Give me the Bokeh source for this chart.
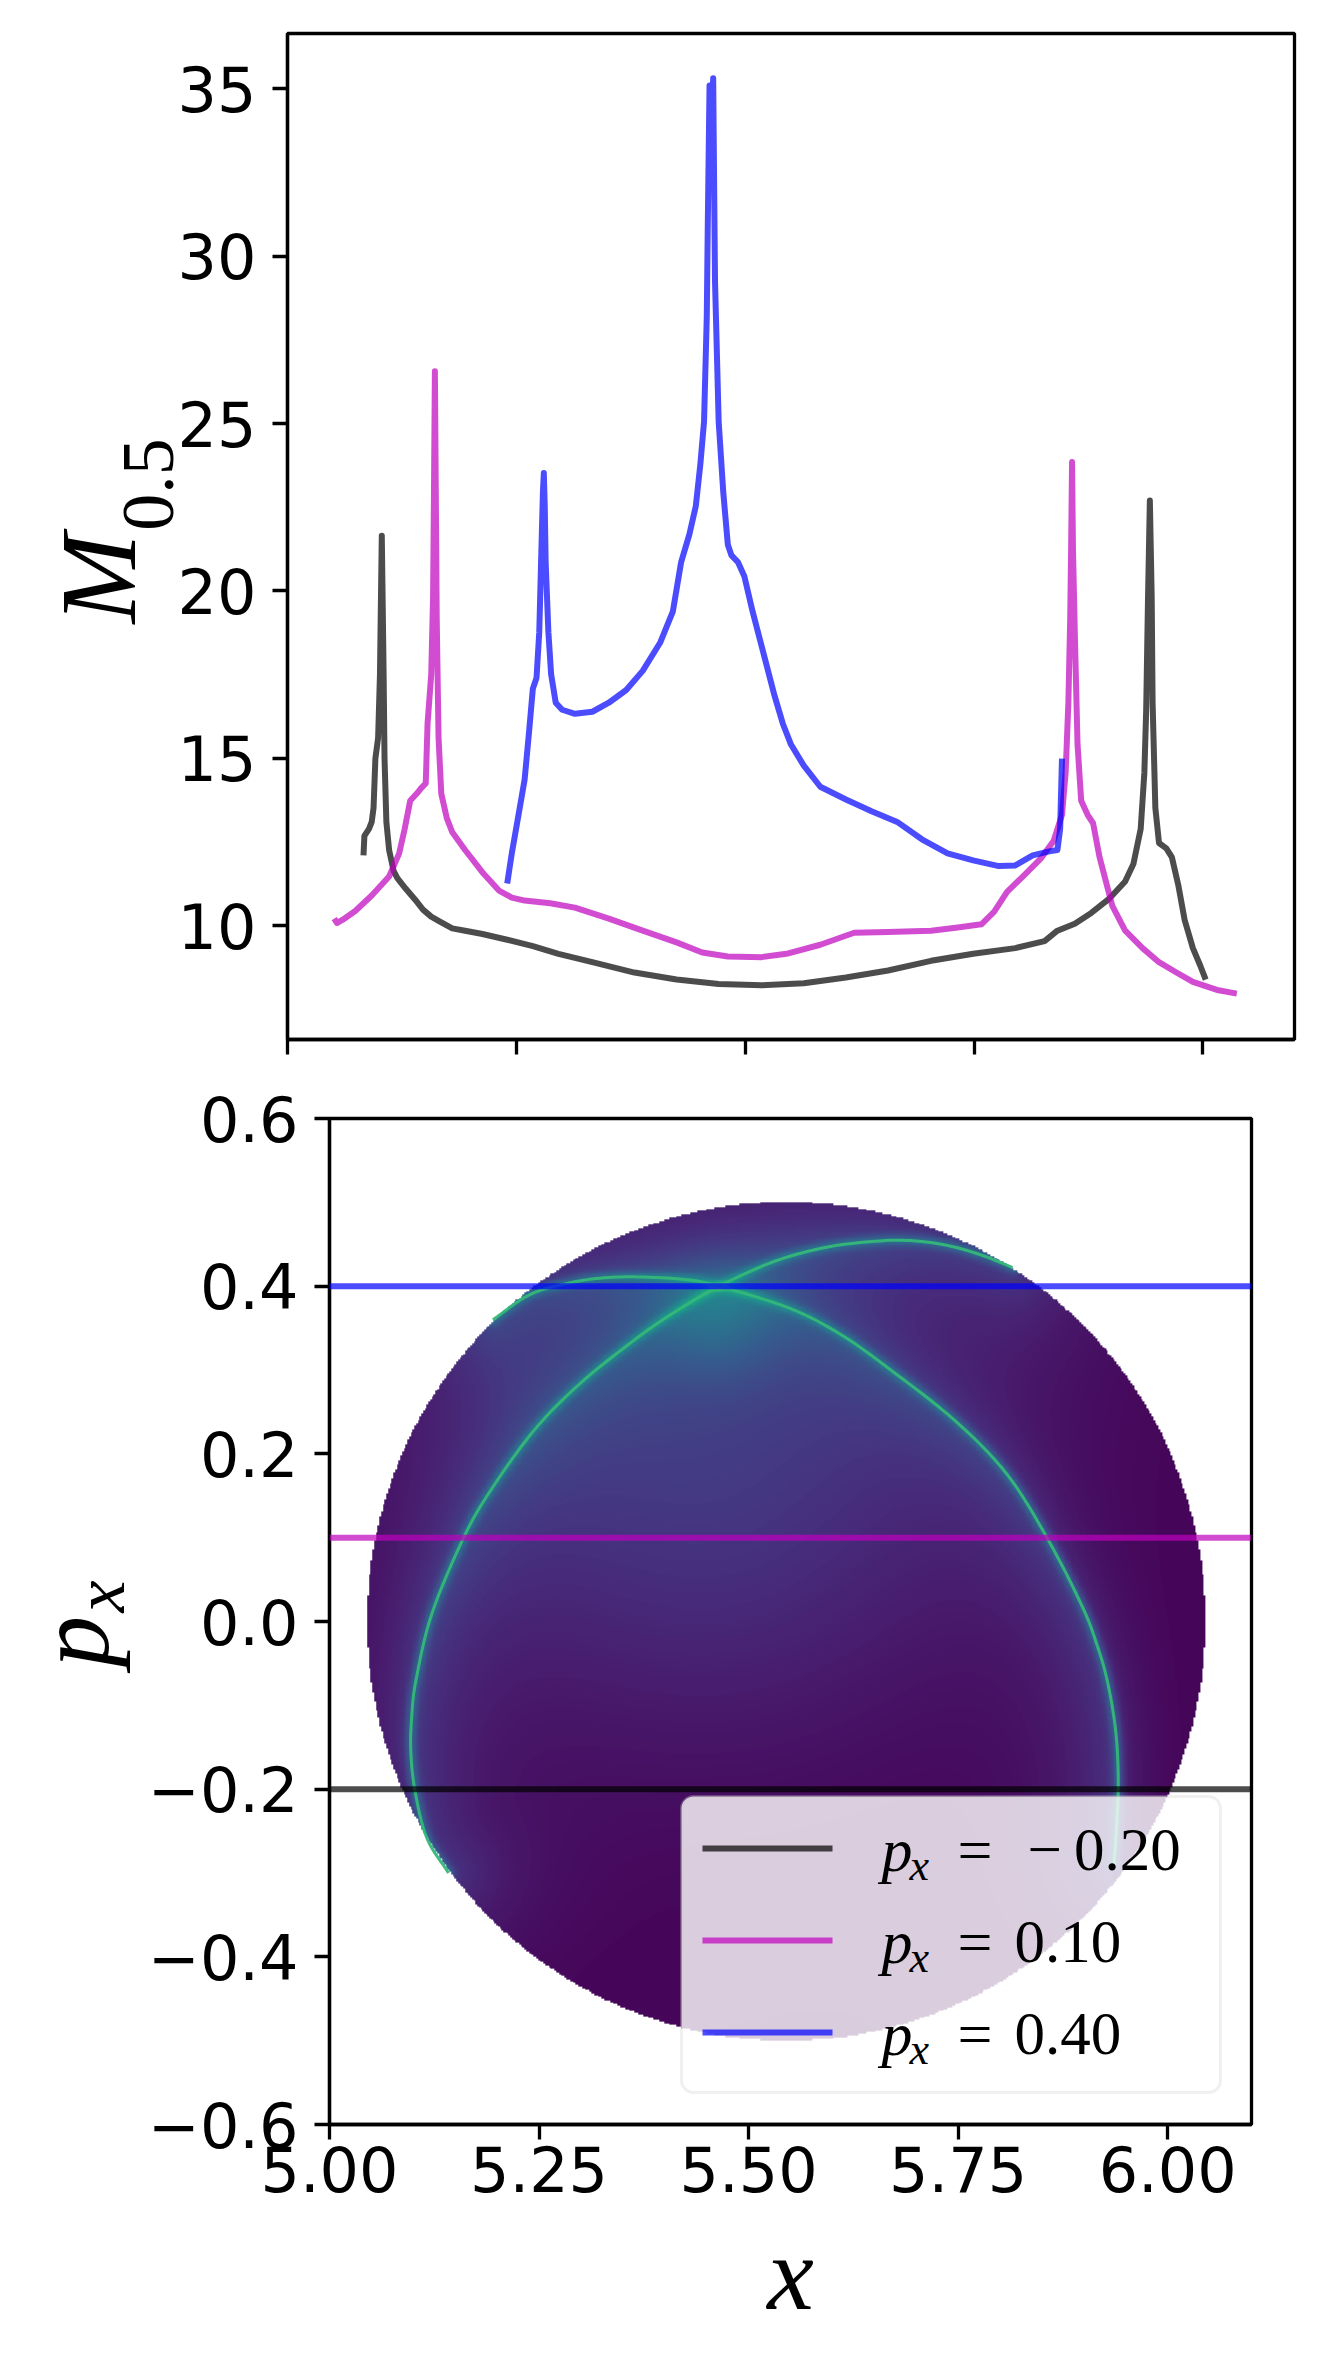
import json
import numpy as np
from bokeh.plotting import figure
from bokeh.layouts import column, row
from bokeh.models import (Range1d, FixedTicker, CustomJSTickFormatter, Label, LinearAxis,
                          BoxAnnotation, Span, LinearColorMapper)
from bokeh.palettes import Viridis256
from bokeh.embed import file_html
from bokeh.resources import INLINE

# ---------------- data ----------------
black_x = [5.083, 5.084, 5.089, 5.092, 5.094, 5.096, 5.099, 5.101, 5.102, 5.103, 5.104, 5.105, 5.106, 5.108,
           5.111, 5.116, 5.120, 5.129, 5.139, 5.148, 5.157, 5.166, 5.180, 5.194, 5.213, 5.240, 5.268, 5.296,
           5.333, 5.379, 5.425, 5.471, 5.518, 5.564, 5.610, 5.656, 5.703, 5.749, 5.795, 5.827, 5.841, 5.860,
           5.878, 5.897, 5.915, 5.924, 5.932, 5.936, 5.938, 5.940, 5.942, 5.944, 5.945, 5.948, 5.952, 5.960,
           5.966, 5.973, 5.980, 5.989, 5.997, 6.003]
black_y = [12.10, 12.68, 12.89, 13.10, 13.52, 14.99, 15.62, 17.50, 19.60, 21.65, 19.60, 17.50, 14.99, 13.10,
           12.26, 11.63, 11.42, 11.11, 10.79, 10.48, 10.27, 10.13, 9.92, 9.85, 9.75, 9.58, 9.39, 9.16,
           8.91, 8.60, 8.39, 8.26, 8.22, 8.28, 8.45, 8.66, 8.95, 9.16, 9.33, 9.54, 9.85, 10.06,
           10.38, 10.79, 11.32, 11.84, 12.89, 14.57, 16.45, 19.81, 22.70, 19.81, 16.66, 13.52, 12.47, 12.31,
           12.05, 11.22, 10.17, 9.33, 8.81, 8.39]

magenta_x = [5.051, 5.054, 5.060, 5.074, 5.092, 5.111, 5.122, 5.128, 5.134, 5.141, 5.146, 5.151, 5.153, 5.157,
             5.159, 5.160, 5.161, 5.162, 5.163, 5.165, 5.168, 5.174, 5.180, 5.194, 5.213, 5.231, 5.245, 5.259,
             5.287, 5.314, 5.351, 5.388, 5.425, 5.453, 5.481, 5.518, 5.545, 5.582, 5.619, 5.656, 5.703, 5.730,
             5.758, 5.772, 5.786, 5.804, 5.823, 5.837, 5.846, 5.850, 5.853, 5.855, 5.856, 5.857, 5.858, 5.860,
             5.863, 5.867, 5.874, 5.880, 5.887, 5.901, 5.915, 5.934, 5.952, 5.971, 5.989, 6.017, 6.037]
magenta_y = [10.21, 10.08, 10.17, 10.44, 10.90, 11.47, 12.16, 12.89, 13.73, 13.94, 14.11, 14.25, 16.04, 17.50,
             19.81, 22.95, 26.56, 22.95, 19.18, 15.62, 13.94, 13.21, 12.79, 12.26, 11.59, 11.05, 10.84, 10.75,
             10.67, 10.54, 10.21, 9.85, 9.50, 9.20, 9.08, 9.06, 9.16, 9.43, 9.79, 9.81, 9.85, 9.94,
             10.04, 10.42, 11.01, 11.49, 12.01, 12.54, 13.31, 14.57, 16.66, 19.18, 21.27, 23.85, 21.27, 18.76,
             15.41, 13.73, 13.31, 13.06, 12.05, 10.59, 9.85, 9.33, 8.91, 8.60, 8.32, 8.07, 7.97]

blue_x = [5.240, 5.245, 5.251, 5.259, 5.264, 5.268, 5.272, 5.275, 5.277, 5.279, 5.280, 5.281, 5.282, 5.285,
          5.288, 5.293, 5.300, 5.314, 5.333, 5.351, 5.370, 5.388, 5.407, 5.421, 5.430, 5.439, 5.446, 5.451,
          5.455, 5.458, 5.459, 5.461, 5.462, 5.465, 5.467, 5.471, 5.476, 5.481, 5.485, 5.492, 5.499, 5.508,
          5.522, 5.532, 5.541, 5.550, 5.564, 5.582, 5.610, 5.638, 5.666, 5.693, 5.721, 5.749, 5.777, 5.795,
          5.814, 5.832, 5.841, 5.844, 5.846]
blue_y = [11.26, 12.16, 13.10, 14.36, 15.83, 17.08, 17.40, 18.76, 20.86, 22.95, 23.52, 22.53, 20.86, 18.76,
          17.50, 16.66, 16.45, 16.33, 16.39, 16.66, 17.04, 17.61, 18.45, 19.39, 20.86, 21.69, 22.53, 23.79,
          25.05, 28.19, 30.70, 35.10, 33.43, 35.31, 29.24, 25.05, 22.95, 21.38, 21.06, 20.86, 20.44, 19.39,
          17.92, 16.87, 16.04, 15.41, 14.78, 14.15, 13.77, 13.42, 13.10, 12.58, 12.16, 11.95, 11.78, 11.80,
          12.10, 12.22, 12.26, 12.89, 14.99]

px_levels = [-0.20, 0.10, 0.40]
level_texts = ["\u2212\u20090.20", "0.10", "0.40"]
series_colors = ["#000000", "#bf00bf", "#0000ff"]

x_ticks = [5.00, 5.25, 5.50, 5.75, 6.00]
m_ticks = [10, 15, 20, 25, 30, 35]
p_ticks = [-0.6, -0.4, -0.2, 0.0, 0.2, 0.4, 0.6]

# caustic curves of the phase-space density
arcL_x = [5.142, 5.116, 5.102, 5.097, 5.098, 5.103, 5.122, 5.160, 5.192, 5.244, 5.298, 5.360, 5.410,
          5.465, 5.532, 5.596, 5.657, 5.699, 5.740, 5.781, 5.815]
arcL_p = [-0.300, -0.258, -0.202, -0.155, -0.115, -0.071, 0.009, 0.100, 0.156, 0.228, 0.283, 0.333, 0.368,
          0.400, 0.430, 0.447, 0.454, 0.454, 0.448, 0.436, 0.422]
arcR_x = [5.936, 5.939, 5.941, 5.940, 5.936, 5.928, 5.918, 5.899, 5.856, 5.808, 5.747, 5.671, 5.609,
          5.548, 5.465, 5.424, 5.369, 5.328, 5.287, 5.239, 5.195]
arcR_p = [-0.290, -0.245, -0.202, -0.155, -0.115, -0.071, -0.035, 0.016, 0.100, 0.176, 0.239, 0.299, 0.343,
          0.374, 0.400, 0.408, 0.411, 0.410, 0.404, 0.390, 0.360]
disk_center = (5.545, 0.0)
disk_radius = 0.5
glow_base = 0.01
blob = (5.45, 0.20, 0.22, 0.22, 0.15)        # x, p, sx, sp, amp
cross_blob = (5.465, 0.36, 0.05, 0.10)       # x, p, sigma, amp
arc_glow = {  # inner side sign, A_in, w_in, A_out, w_out
    "L": (-1, 0.15, 0.065, 0.13, 0.045),
    "R": (1, 0.15, 0.065, 0.10, 0.03),
}
halo = (0.16, 0.007)

# ---------------- geometry (page pixels) ----------------
XR = (5.0, 6.1)
YR1 = (6.6, 36.65)
YR2 = (-0.6, 0.6)
LB1, FW1, RB1, TB1, FH1, BB1 = 287, 1007, 20, 33, 1006, 40
LB2, FW2, RB2, TB2, FH2, BB2 = 329, 922, 20, 39, 1006, 210
F1L, F1T = LB1, TB1
F2L, F2T = LB2, TB1 + FH1 + BB1 + TB2


def top_xy(X, Y):
    return (XR[0] + (X - F1L) / FW1 * (XR[1] - XR[0]),
            YR1[1] - (Y - F1T) / FH1 * (YR1[1] - YR1[0]))


def bot_xy(X, Y):
    return (XR[0] + (X - F2L) / FW2 * (XR[1] - XR[0]),
            YR2[1] - (Y - F2T) / FH2 * (YR2[1] - YR2[0]))


def style(p):
    p.grid.visible = False
    p.outline_line_color = "black"
    p.outline_line_width = 3.3
    p.background_fill_color = "white"
    p.border_fill_color = "white"
    for ax in (p.xaxis[0], p.yaxis[0]):
        ax.axis_line_width = 3.3
        ax.axis_line_color = "black"
        ax.major_tick_line_width = 3.3
        ax.major_tick_line_color = "black"
        ax.major_tick_out = 15
        ax.major_tick_in = 0
        ax.minor_tick_out = 0
        ax.minor_tick_in = 0
        ax.major_label_text_font = "DejaVu Sans"
        ax.major_label_text_font_size = "62px"
        ax.major_label_text_color = "black"
    p.xaxis[0].major_label_standoff = 6
    p.yaxis[0].major_label_standoff = 16


def name_axis(p, text, at, size, standoff, italic):
    """An extra, tick-less axis whose single tick label is (a piece of) the axis title."""
    ax = LinearAxis(ticker=FixedTicker(ticks=[at]),
                    formatter=CustomJSTickFormatter(code="return %s;" % json.dumps(text)),
                    axis_line_color=None, major_tick_line_color=None, minor_tick_line_color=None,
                    major_tick_out=0, major_tick_in=0, minor_tick_out=0, minor_tick_in=0,
                    major_label_orientation="parallel", major_label_standoff=standoff,
                    major_label_text_font="Liberation Serif",
                    major_label_text_font_style="italic" if italic else "normal",
                    major_label_text_font_size="%dpx" % size, major_label_text_color="black")
    p.add_layout(ax, "left")


# ---------------- top figure ----------------
p1 = figure(width=LB1 + FW1 + RB1, height=TB1 + FH1 + BB1, frame_width=FW1, frame_height=FH1,
            x_range=Range1d(*XR), y_range=Range1d(*YR1), output_backend="svg", toolbar_location=None,
            min_border_left=LB1, min_border_right=RB1, min_border_top=TB1, min_border_bottom=BB1)
style(p1)
p1.xaxis.ticker = FixedTicker(ticks=x_ticks)
p1.xaxis.formatter = CustomJSTickFormatter(code="return '';")
p1.xaxis.major_label_text_font_size = "1px"
p1.yaxis.ticker = FixedTicker(ticks=m_ticks)
p1.yaxis.formatter = CustomJSTickFormatter(code="return tick.toFixed(0);")

for xs, ys, c in zip([black_x, magenta_x, blue_x], [black_y, magenta_y, blue_y], series_colors):
    p1.line(xs, ys, line_color=c, line_alpha=0.7, line_width=6, line_join="round")

# y title  M_{0.5}: letter axis (inner) then subscript axis (outer)
name_axis(p1, "M", top_xy(0, 578)[1], 108, 17, True)
name_axis(p1, "0.5", top_xy(0, 484)[1], 74, -137, False)

# ---------------- bottom figure ----------------
p2 = figure(width=LB2 + FW2 + RB2, height=TB2 + FH2 + BB2, frame_width=FW2, frame_height=FH2,
            x_range=Range1d(*XR), y_range=Range1d(*YR2), output_backend="svg", toolbar_location=None,
            min_border_left=LB2, min_border_right=RB2, min_border_top=TB2, min_border_bottom=BB2)
style(p2)
p2.xaxis.ticker = FixedTicker(ticks=x_ticks)
p2.xaxis.formatter = CustomJSTickFormatter(code="return tick.toFixed(2);")
p2.yaxis.ticker = FixedTicker(ticks=p_ticks)
p2.yaxis.formatter = CustomJSTickFormatter(
    code="return (tick < -1e-9 ? '\\u2212' : '') + Math.abs(tick).toFixed(1);")
p2.xaxis.axis_label = "x"
p2.xaxis.axis_label_text_font = "Liberation Serif"
p2.xaxis.axis_label_text_font_style = "italic"
p2.xaxis.axis_label_text_font_size = "105px"
p2.xaxis.axis_label_text_color = "black"
p2.xaxis.axis_label_standoff = 20

# y title  p_x
name_axis(p2, "p", bot_xy(0, 1641)[1], 103, 15, True)
name_axis(p2, "x", bot_xy(0, 1596)[1], 72, -127, True)


def catmull(xs, ys, n=8):
    pts = np.column_stack([xs, ys]).astype(float)
    P = np.vstack([2 * pts[0] - pts[1], pts, 2 * pts[-1] - pts[-2]])
    t = np.linspace(0, 1, n, endpoint=False)[:, None]
    out = []
    for i in range(1, len(P) - 2):
        p0, p1_, p2_, p3 = P[i - 1], P[i], P[i + 1], P[i + 2]
        out.append(0.5 * (2 * p1_ + (-p0 + p2_) * t + (2 * p0 - 5 * p1_ + 4 * p2_ - p3) * t ** 2
                          + (-p0 + 3 * p1_ - 3 * p2_ + p3) * t ** 3))
    out.append(pts[-1:])
    c = np.vstack(out)
    return c[:, 0], c[:, 1]


# phase-space density image
N = 480
cx, cp = disk_center
gx0, gp0 = cx - disk_radius, cp - disk_radius
cell = 2 * disk_radius / N
gx = gx0 + (np.arange(N) + 0.5) * cell
gp = gp0 + (np.arange(N) + 0.5) * cell
X, P = np.meshgrid(gx, gp)


def arc_distance(X, P, ax_, ap_):
    ax_ = np.asarray(ax_, float)
    ap_ = np.asarray(ap_, float)
    x0, y0 = ax_[:-1], ap_[:-1]
    vx, vy = np.diff(ax_), np.diff(ap_)
    L2 = np.maximum(vx * vx + vy * vy, 1e-12)
    Xf, Pf = X.ravel(), P.ravel()
    d = np.empty(Xf.size)
    s = np.empty(Xf.size)
    step = 8000
    for i in range(0, Xf.size, step):
        xx = Xf[i:i + step, None]
        pp = Pf[i:i + step, None]
        t = np.clip(((xx - x0) * vx + (pp - y0) * vy) / L2, 0, 1)
        d2 = (xx - x0 - t * vx) ** 2 + (pp - y0 - t * vy) ** 2
        k = np.argmin(d2, axis=1)
        r = np.arange(k.size)
        d[i:i + step] = np.sqrt(d2[r, k])
        s[i:i + step] = np.sign(vx[k] * (pp[:, 0] - y0[k]) - vy[k] * (xx[:, 0] - x0[k]))
    return d.reshape(X.shape), s.reshape(X.shape)


smooth_arcs = {"L": catmull(arcL_x, arcL_p), "R": catmull(arcR_x, arcR_p)}

bx, bp, bsx, bsp, bamp = blob
field = glow_base + bamp * np.exp(-((X - bx) ** 2 / (2 * bsx ** 2) + (P - bp) ** 2 / (2 * bsp ** 2)))
ccx, ccp, ccs, camp = cross_blob
field += camp * np.exp(-((X - ccx) ** 2 + (P - ccp) ** 2) / (2 * ccs ** 2))
for key, (axs, aps) in smooth_arcs.items():
    sgn, a_in, w_in, a_out, w_out = arc_glow[key]
    d, s = arc_distance(X, P, axs, aps)
    field += np.where(s * sgn > 0, a_in * np.exp(-d / w_in), a_out * np.exp(-d / w_out))
    field += halo[0] * np.exp(-(d / halo[1]) ** 2)
field[(X - cx) ** 2 + (P - cp) ** 2 > disk_radius ** 2] = np.nan
field = field.astype(np.float32)

cmap = LinearColorMapper(palette=Viridis256, low=0.0, high=1.0, nan_color=(0, 0, 0, 0))
p2.image(image=[field], x=gx0, y=gp0, dw=2 * disk_radius, dh=2 * disk_radius, color_mapper=cmap)
for axs, aps in smooth_arcs.values():
    p2.line(axs, aps, line_color="#35b779", line_width=3.0, line_alpha=0.95, line_join="round")

for lev, c in zip(px_levels, series_colors):
    p2.add_layout(Span(location=lev, dimension="width", line_color=c, line_alpha=0.7, line_width=6))

# legend
lx0, ly0 = bot_xy(681, 1796)
lx1, ly1 = bot_xy(1220, 2092)
p2.add_layout(BoxAnnotation(left=lx0, right=lx1, top=ly0, bottom=ly1, fill_color="white", fill_alpha=0.8,
                            line_color="#cccccc", line_width=3, border_radius=12))
row_handle_y = [1848, 1940, 2032]
num_x = [1027, 1014, 1014]


def legend_text(X, Ybase, text, size, italic):
    # anchor on the vertical middle of the em box (baseline - 0.3375 em)
    tx, ty = bot_xy(X, Ybase - 0.3375 * size)
    p2.add_layout(Label(x=tx, y=ty, text=text, text_font="Liberation Serif",
                        text_font_style="italic" if italic else "normal",
                        text_font_size="%dpx" % size, text_align="left", text_baseline="middle",
                        text_color="black", level="overlay"))


for i, (c, txt) in enumerate(zip(series_colors, level_texts)):
    hy = row_handle_y[i]
    hx0, hyd = bot_xy(702, hy)
    hx1, _ = bot_xy(832, hy)
    p2.segment(x0=[hx0], y0=[hyd], x1=[hx1], y1=[hyd], line_color=c, line_alpha=0.7, line_width=6,
               level="overlay")
    base = hy + 22
    legend_text(881, base, "p", 62, True)
    legend_text(909, base + 10, "x", 44, True)
    legend_text(957, base, "=", 62, False)
    legend_text(num_x[i], base, txt, 61, False)

layout = column(row(p1), row(p2))
with open("out.html", "w", encoding="utf-8") as f:
    f.write(file_html(layout, INLINE))
